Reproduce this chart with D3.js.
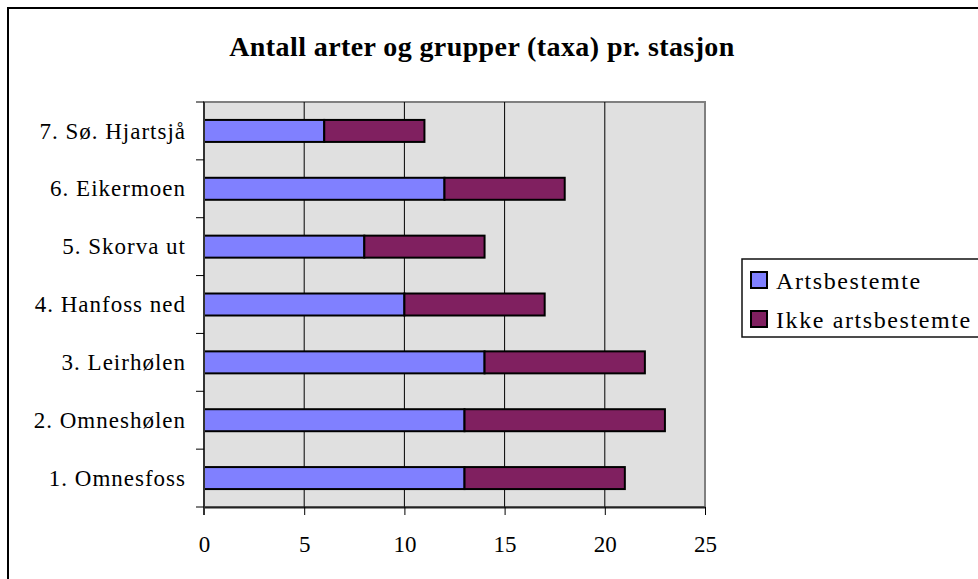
<!DOCTYPE html>
<html>
<head>
<meta charset="utf-8">
<style>
  body { margin: 0; background: #fff; }
  svg { display: block; }
  text { font-family: "Liberation Serif", "Times New Roman", serif; fill: #000; }
</style>
</head>
<body>
<svg width="978" height="579"></svg>
<script src="https://d3js.org/d3.v7.min.js"></script>
<script>
// chart data, bottom station first as in the original sheet
var stations = ["1. Omnesfoss", "2. Omneshølen", "3. Leirhølen", "4. Hanfoss ned",
                "5. Skorva ut", "6. Eikermoen", "7. Sø. Hjartsjå"];
var artsbestemte = [13, 13, 14, 10, 8, 12, 6];
var ikkeArtsbestemte = [8, 10, 8, 7, 6, 6, 5];
var seriesNames = ["Artsbestemte", "Ikke artsbestemte"];
var seriesColors = ["#8080ff", "#802060"];
var xTicks = [0, 5, 10, 15, 20, 25];

var svg = d3.select("svg");

// outer frame (runs off the right and bottom edge)
svg.append("rect")
    .attr("x", 8).attr("y", 8)
    .attr("width", 1000).attr("height", 600)
    .attr("fill", "#fff").attr("stroke", "#000").attr("stroke-width", 2);

var pLeft = 204, pRight = 705, pTop = 102, pBottom = 507;

var x = d3.scaleLinear().domain([0, 25]).range([pLeft, pRight]);
var y = d3.scaleBand().domain(stations.slice().reverse()).range([pTop, pBottom]);

// plot background
svg.append("rect")
    .attr("x", pLeft).attr("y", pTop)
    .attr("width", pRight - pLeft).attr("height", pBottom - pTop)
    .attr("fill", "#e0e0e0").attr("stroke", "#808080").attr("stroke-width", 2);

// gridlines
svg.append("g").selectAll("line")
    .data(xTicks.slice(1, -1))
    .join("line")
    .attr("x1", function(d) { return x(d); }).attr("x2", function(d) { return x(d); })
    .attr("y1", pTop).attr("y2", pBottom)
    .attr("stroke", "#000").attr("stroke-width", 1);

// stacked bars
var stacked = d3.stack().keys([0, 1])(stations.map(function(s, i) {
  return { name: s, 0: artsbestemte[i], 1: ikkeArtsbestemte[i] };
}));

var barH = 22;
stacked.forEach(function(layer, k) {
  svg.append("g").selectAll("rect")
    .data(layer)
    .join("rect")
    .attr("x", function(d) { return x(d[0]); })
    .attr("width", function(d) { return x(d[1]) - x(d[0]); })
    .attr("y", function(d) { return y(d.data.name) + y.bandwidth() / 2 - barH / 2; })
    .attr("height", barH)
    .attr("fill", seriesColors[k])
    .attr("stroke", "#000").attr("stroke-width", 2);
});

// x axis
var xAxis = svg.append("g")
    .attr("transform", "translate(0," + pBottom + ")")
    .call(d3.axisBottom(x).tickValues(xTicks).tickSize(8).tickSizeOuter(0).tickPadding(21));
xAxis.select(".domain").attr("stroke", "#222").attr("stroke-width", 2);
xAxis.selectAll(".tick line").attr("stroke", "#000");
xAxis.selectAll("text").style("font-size", "23px").attr("fill", "#000")
    .style("font-family", "'Liberation Serif', serif");

// y axis: ticks at band boundaries
var yAxis = svg.append("g").attr("transform", "translate(" + pLeft + ",0)");
yAxis.append("line")
    .attr("x1", 0).attr("x2", 0).attr("y1", pTop).attr("y2", pBottom + 8)
    .attr("stroke", "#333").attr("stroke-width", 2);
yAxis.selectAll(".yt")
    .data(d3.range(stations.length + 1))
    .join("line")
    .attr("class", "yt")
    .attr("x1", -8).attr("x2", 0)
    .attr("y1", function(i) { return pTop + i * y.step(); })
    .attr("y2", function(i) { return pTop + i * y.step(); })
    .attr("stroke", "#000");
yAxis.selectAll("text")
    .data(stations)
    .join("text")
    .attr("x", -18)
    .attr("y", function(d) { return y(d) + y.bandwidth() / 2; })
    .attr("dy", "0.33em")
    .attr("text-anchor", "end")
    .style("font-size", "23px")
    .style("letter-spacing", "1px")
    .text(function(d) { return d; });

// title
svg.append("text")
    .attr("x", 482).attr("y", 56)
    .attr("text-anchor", "middle")
    .style("font-size", "28px").style("font-weight", "bold")
    .style("letter-spacing", "0.4px")
    .text("Antall arter og grupper (taxa) pr. stasjon");

// legend
var legend = svg.append("g");
legend.append("rect")
    .attr("x", 742).attr("y", 259).attr("width", 260).attr("height", 78)
    .attr("fill", "#fff").attr("stroke", "#111").attr("stroke-width", 1.5);
var items = legend.selectAll("g.item")
    .data(seriesNames)
    .join("g")
    .attr("class", "item")
    .attr("transform", function(d, i) { return "translate(751," + (272 + i * 39) + ")"; });
items.append("rect")
    .attr("width", 16).attr("height", 16)
    .attr("fill", function(d, i) { return seriesColors[i]; })
    .attr("stroke", "#000").attr("stroke-width", 2);
items.append("text")
    .attr("x", 25).attr("y", 17)
    .style("font-size", "24px")
    .style("letter-spacing", "1.6px")
    .text(function(d) { return d; });
</script>
</body>
</html>
